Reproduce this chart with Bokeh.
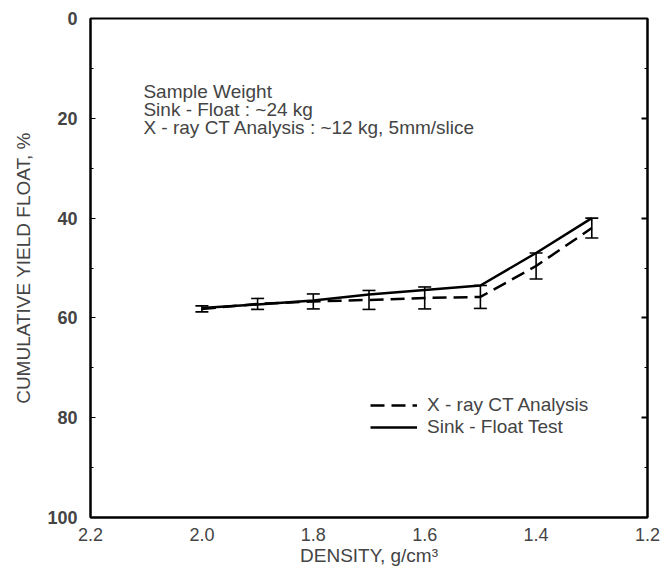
from bokeh.plotting import figure
from bokeh.models import (Range1d, FixedTicker, LinearAxis, ColumnDataSource, Whisker,
                          TeeHead, Legend, LegendItem, Label, PrintfTickFormatter,
                          CustomJSTickFormatter)
from bokeh.embed import file_html
from bokeh.resources import INLINE

FONT = "Liberation Sans"

# Density classes (g/cm3) and cumulative float yield (%)
density = [2.0, 1.9, 1.8, 1.7, 1.6, 1.5, 1.4, 1.3]
sink_float = [58.0, 57.3, 56.5, 55.3, 54.4, 53.5, 47.0, 40.0]
xray_ct = [58.2, 57.2, 56.7, 56.4, 56.0, 55.8, 49.6, 42.0]
xray_err = [0.6, 1.1, 1.5, 1.9, 2.2, 2.3, 2.6, 2.0]

y_ticks = [0, 20, 40, 60, 80, 100]
y_minor = [10, 30, 50, 70, 90]
x_ticks = [2.2, 2.0, 1.8, 1.6, 1.4, 1.2]

notes = ["Sample Weight",
         "Sink - Float : ~24 kg",
         "X - ray CT Analysis : ~12 kg, 5mm/slice"]
note_y = [14.6, 18.2, 21.8]

p = figure(width=664, height=573, output_backend="svg", toolbar_location=None,
           x_range=Range1d(2.2, 1.2), y_range=Range1d(100, 0),
           min_border_left=90, min_border_right=17, min_border_top=18, min_border_bottom=56)
p.background_fill_color = "white"
p.border_fill_color = "white"
p.outline_line_color = "black"
p.outline_line_width = 2
p.grid.visible = False

# left axis
ya = p.yaxis[0]
ya.ticker = FixedTicker(ticks=y_ticks, minor_ticks=y_minor)
ya.axis_label = "CUMULATIVE YIELD FLOAT, %"
ya.axis_label_text_font = FONT
ya.axis_label_text_font_style = "normal"
ya.axis_label_text_font_size = "19px"
ya.axis_label_standoff = 10
ya.major_label_text_font = FONT
ya.major_label_text_font_style = "bold"
ya.major_label_text_font_size = "18px"
ya.major_label_standoff = 13
ya.axis_line_width = 2
ya.major_tick_in = 5
ya.major_tick_out = 0
ya.minor_tick_in = 3
ya.minor_tick_out = 0

# right axis: ticks only, no labels
ra = LinearAxis(ticker=FixedTicker(ticks=y_ticks[1:-1], minor_ticks=y_minor),
                formatter=CustomJSTickFormatter(code="return ''"),
                axis_line_width=2, major_label_standoff=0,
                major_tick_in=6, major_tick_out=0, minor_tick_in=3, minor_tick_out=0,
                major_tick_line_width=2)
p.add_layout(ra, "right")

# bottom axis
xa = p.xaxis[0]
xa.ticker = FixedTicker(ticks=x_ticks)
xa.formatter = PrintfTickFormatter(format="%.1f")
xa.axis_label = "DENSITY, g/cm\u00b3"
xa.axis_label_text_font = FONT
xa.axis_label_text_font_style = "normal"
xa.axis_label_text_font_size = "19px"
xa.axis_label_standoff = 1
xa.major_label_text_font = FONT
xa.major_label_text_font_size = "18px"
xa.major_label_standoff = 10
xa.axis_line_width = 2
xa.major_tick_in = 0
xa.major_tick_out = 0
xa.minor_tick_in = 0
xa.minor_tick_out = 0

src = ColumnDataSource(dict(
    x=density, sf=sink_float, ct=xray_ct,
    lo=[v - e for v, e in zip(xray_ct, xray_err)],
    hi=[v + e for v, e in zip(xray_ct, xray_err)],
))

r_ct = p.line("x", "ct", source=src, line_color="black", line_width=2.5, line_dash="14 7")
r_sf = p.line("x", "sf", source=src, line_color="black", line_width=2.5)

wh = Whisker(base="x", lower="lo", upper="hi", source=src, line_color="black", line_width=1.6,
             lower_head=TeeHead(size=13, line_color="black", line_width=1.6),
             upper_head=TeeHead(size=13, line_color="black", line_width=1.6))
p.add_layout(wh)

legend = Legend(items=[LegendItem(label="X - ray CT Analysis", renderers=[r_ct]),
                       LegendItem(label="Sink - Float Test", renderers=[r_sf])],
                location=(280, 79), padding=0, margin=0, spacing=0,
                glyph_width=47, glyph_height=18, label_height=18, label_standoff=10,
                label_text_font=FONT, label_text_font_size="19px",
                border_line_color=None, background_fill_alpha=0)
p.add_layout(legend)

for txt, yv in zip(notes, note_y):
    p.add_layout(Label(x=2.105, y=yv, text=txt, text_font=FONT, text_font_size="19px",
                       text_baseline="middle", text_align="left"))

open("out.html", "w").write(file_html(p, INLINE))
